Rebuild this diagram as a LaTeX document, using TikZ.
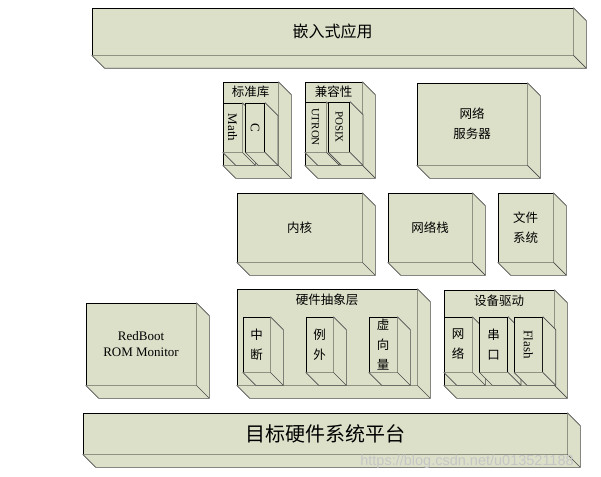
\documentclass[tikz,border=0pt]{standalone}
\usepackage{fontspec}
\setmainfont{Liberation Serif}
\newfontfamily\cjk{Noto Sans CJK SC}
\newfontfamily\wmfont{Liberation Sans}
\usetikzlibrary{positioning}
\definecolor{boxFill}{HTML}{DDE0C9}
\definecolor{edgeGray}{HTML}{4A4A4A}
\def\dep{13}
\tikzset{
    block/.style={rectangle, draw, fill=boxFill, line width=0.7pt,
        inner sep=0pt, align=center},
    dims/.style 2 args={minimum width=#1pt, minimum height=#2pt},
    side/.style={draw=edgeGray, line width=0.7pt, line join=round},
    cjkBig/.style={font=\cjk\fontsize{16}{20}\selectfont},
    cjkHuge/.style={font=\cjk\fontsize{20}{24}\selectfont},
    cjkText/.style={font=\cjk\fontsize{12.5}{20}\selectfont},
    latText/.style={font=\fontsize{13}{16}\selectfont},
    latSmall/.style={font=\fontsize{11}{13}\selectfont}
}
% side faces of a box, drawn from the node's corners
\newcommand{\extrude}[1]{%
    \fill[boxFill] (#1.north east) -- ++(\dep,\dep) |- ([shift={(\dep,\dep)}]#1.south west)
        -- (#1.south west) -- (#1.south east) -- cycle;
    \draw[side] (#1.north east) -- ++(\dep,\dep) |- ([shift={(\dep,\dep)}]#1.south west)
        -- (#1.south west);
    \draw[side] (#1.south east) -- ++(\dep,\dep);
}

\begin{document}
\begin{tikzpicture}[x=1pt,y=-1pt]
    \useasboundingbox (0,0) rectangle (601,476);
    % application layer
    \node[block, dims={481}{47}, cjkBig] (app) at (332.5,31.5) {嵌入式应用};
    \extrude{app}
    % libraries
    \node[block, dims={55}{83}] (stdlib) at (250.5,123.5) {};
    \extrude{stdlib}
    \node[cjkText] (stdlibT) at (250.5,92) {标准库};
    \node[block, dims={19}{49}, latText] (math) at (232.5,127.5) {\rotatebox{-90}{Math}};
    \extrude{math}
    \node[block, dims={19}{49}, latText] (clib) [right=3pt of math] {\rotatebox{-90}{C}};
    \extrude{clib}
    \node[block, dims={57}{83}] (compat) at (333.5,123.5) {};
    \extrude{compat}
    \node[cjkText] (compatT) at (333.5,92) {兼容性};
    \node[block, dims={21}{50}, latSmall] (utron) at (315.5,127) {\rotatebox{-90}{UTRON}};
    \extrude{utron}
    \node[block, dims={21}{50}, latSmall] (posix) [right=2pt of utron] {\rotatebox{-90}{POSIX}};
    \extrude{posix}
    \node[block, dims={110}{82}, cjkText] (netsrv) at (472,124) {网络\\服务器};
    \extrude{netsrv}
    % kernel layer
    \node[block, dims={125}{69}, cjkText] (kernel) at (299.5,227.5) {内核};
    \extrude{kernel}
    \node[block, dims={84}{69}, cjkText] (netstack) at (430,227.5) {网络栈};
    \extrude{netstack}
    \node[block, dims={55}{69}, cjkText] (fs) at (525.5,227.5) {文件\\系统};
    \extrude{fs}
    % hardware layer
    \node[block, dims={110}{82}, latText] (redboot) at (141,344) {RedBoot\\ROM Monitor};
    \extrude{redboot}
    \node[block, dims={180}{96}] (hal) at (327,337) {};
    \extrude{hal}
    \node[cjkText] (halT) at (327,300) {硬件抽象层};
    \node[block, dims={27}{55}, cjkText] (intr) at (256.5,344.5) {中\\断};
    \extrude{intr}
    \node[block, dims={27}{55}, cjkText] (excp) at (319.5,344.5) {例\\外};
    \extrude{excp}
    \node[block, dims={28}{55}, cjkText] (vect) at (383,344.5) {虚\\向\\量};
    \extrude{vect}
    \node[block, dims={110}{95}] (drv) at (499,337.5) {};
    \extrude{drv}
    \node[cjkText] (drvT) at (499,301) {设备驱动};
    \node[block, dims={28}{55}, cjkText] (netdrv) at (458,344.5) {网\\络};
    \extrude{netdrv}
    \node[block, dims={28}{55}, cjkText] (serial) [right=7pt of netdrv] {串\\口};
    \extrude{serial}
    \node[block, dims={28}{55}, latText] (flash) [right=6pt of serial] {\rotatebox{-90}{Flash}};
    \extrude{flash}
    % platform
    \node[block, dims={484}{41}, cjkHuge] (target) at (325,433.5) {目标硬件系统平台};
    \extrude{target}
    \node[text=gray!45, font=\wmfont\fontsize{14.5}{15}\selectfont] (mark) at (467,462)
        {https://blog.csdn.net/u013521188};
\end{tikzpicture}
\end{document}
